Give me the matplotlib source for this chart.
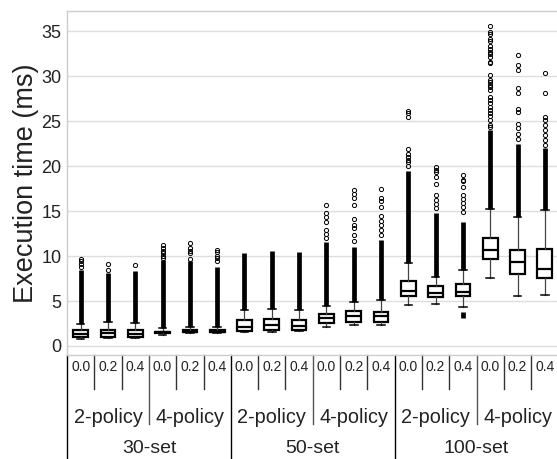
import matplotlib
matplotlib.use("Agg")
import matplotlib.pyplot as plt
from matplotlib.lines import Line2D

plt.rcParams['font.family'] = ['Liberation Sans', 'DejaVu Sans']

# hierarchy of the x axis
sets = ["30-set", "50-set", "100-set"]
policies = ["2-policy", "4-policy"]
ratios = ["0.0", "0.2", "0.4"]

# box statistics per category (ms)
whislo = [0.8, 0.85, 0.85, 1.2, 1.4, 1.4, 1.6, 1.6, 1.65, 2.15, 2.35, 2.35, 4.55, 4.65, 4.3, 7.6, 5.55, 5.65]
q1 = [0.95, 1.0, 1.0, 1.4, 1.5, 1.5, 1.7, 1.8, 1.8, 2.5, 2.7, 2.7, 5.6, 5.5, 5.55, 9.65, 8.0, 7.6]
med = [1.3, 1.4, 1.35, 1.5, 1.6, 1.6, 2.15, 2.3, 2.25, 3.1, 3.35, 3.3, 6.15, 5.9, 6.0, 10.65, 9.35, 8.6]
q3 = [1.75, 1.8, 1.8, 1.6, 1.75, 1.75, 2.9, 3.0, 2.9, 3.6, 3.9, 3.8, 7.2, 6.65, 6.85, 11.95, 10.65, 10.8]
whishi = [2.4, 2.7, 2.6, 1.95, 2.1, 2.1, 4.0, 4.1, 4.0, 4.4, 4.9, 5.1, 9.25, 7.7, 8.5, 15.2, 14.3, 15.1]

# the outliers pile up into solid columns: top of the solid part
dense_hi = [8.5, 8.1, 8.3, 9.6, 9.5, 8.8, 10.3, 10.6, 10.5, 11.6, 11.0, 11.8, 19.5, 14.8, 13.8, 24.0, 22.5, 22.0]
# solid column below the box (100-set 2-policy 0.4)
low_idx = [14]
low_lo = [3.1]
low_hi = [3.8]

# single outliers above the solid part
sparse = [
    [8.8, 9.1, 9.4, 9.7],
    [8.4, 9.1],
    [9.0],
    [9.8, 10.0, 10.3, 10.6, 10.9, 11.2],
    [9.7, 10.3, 10.6, 10.9, 11.5],
    [9.5, 9.8, 10.0, 10.4, 10.7],
    [],
    [],
    [],
    [12.0, 12.4, 12.9, 13.8, 14.3, 14.8, 15.7],
    [11.7, 12.3, 13.1, 13.5, 14.1, 15.7, 16.4, 16.9, 17.3],
    [12.3, 12.9, 13.4, 13.9, 14.4, 15.5, 16.1, 16.5, 17.5],
    [20.0, 20.5, 20.7, 21.0, 21.3, 21.9, 25.5, 25.9, 26.1],
    [15.3, 15.8, 16.2, 16.8, 18.0, 18.8, 19.3, 19.6, 19.9],
    [14.9, 15.5, 15.9, 16.3, 16.8, 17.7, 18.3, 18.4, 19.0],
    [24.3, 24.6, 25.1, 25.6, 25.9, 26.2, 26.6, 27.0, 27.3, 27.7, 28.5, 28.8, 29.0, 29.3,
     29.6, 30.1, 31.4, 31.6, 32.1, 32.4, 32.7, 33.0, 33.3, 33.9, 34.1, 34.7, 34.9, 35.6],
    [23.0, 23.6, 24.2, 24.7, 26.0, 26.3, 28.1, 28.7, 30.7, 31.2, 32.3],
    [22.3, 22.9, 23.4, 24.0, 24.6, 25.1, 25.5, 28.1, 30.3],
]

yticks = [0, 5, 10, 15, 20, 25, 30, 35]

n = len(med)
pos = list(range(1, n + 1))

fig = plt.figure(figsize=(5.57, 4.59), dpi=100)
ax = fig.add_axes([0.1203, 0.2266, 0.8824, 0.750])

# solid outlier columns first, boxes on top
ax.vlines(pos, whishi, dense_hi, color="black", linewidth=3.4, zorder=2)
ax.vlines([pos[i] for i in low_idx], low_lo, low_hi, color="black", linewidth=3.4, zorder=2)

stats = []
for i in range(n):
    stats.append(dict(whislo=whislo[i], q1=q1[i], med=med[i], q3=q3[i],
                      whishi=whishi[i], fliers=sparse[i]))

ax.bxp(stats, positions=pos, widths=0.54, patch_artist=True, showfliers=True,
       boxprops=dict(facecolor="white", edgecolor="black", linewidth=1.6),
       medianprops=dict(color="black", linewidth=1.6),
       whiskerprops=dict(color="#444444", linewidth=0.9),
       capprops=dict(color="black", linewidth=1.1),
       capwidths=0.28,
       flierprops=dict(marker="o", markersize=3.0, markerfacecolor="none",
                       markeredgecolor="black", markeredgewidth=0.7),
       zorder=3)

ax.set_xlim(0.5, n + 0.5)
ax.set_ylim(-1.0, 37.26)
ax.set_yticks(yticks)
ax.set_yticklabels([str(t) for t in yticks], fontsize=13, color="#222222")
ax.set_xticks([])
ax.tick_params(axis="y", length=0, pad=4)
ax.set_ylabel("Execution time (ms)", fontsize=19.5, color="#222222", labelpad=2)
ax.yaxis.grid(True, color="#dddddd", linewidth=1.0)
ax.set_axisbelow(True)
for s in ax.spines.values():
    s.set_color("#cccccc")
    s.set_linewidth(1.0)

# hierarchical labels under the axes
tr = ax.get_xaxis_transform()
y_r, y_p, y_s = -0.034, -0.183, -0.272
end_r, end_p, end_s = -0.099, -0.200, -0.31

k = 0
for si, sname in enumerate(sets):
    for pi, pname in enumerate(policies):
        for ri, rname in enumerate(ratios):
            ax.text(pos[k], y_r, rname, transform=tr, ha="center", va="center",
                    fontsize=10, color="#222222")
            k += 1
        ax.text(pos[k - 3] + 1, y_p, pname, transform=tr, ha="center", va="center",
                fontsize=14.3, color="#222222")
    ax.text(pos[k - 6] + 2.5, y_s, sname, transform=tr, ha="center", va="center",
            fontsize=14, color="#222222")

# separators between categories
for b in range(n + 1):
    x = b + 0.5
    if b % 6 == 0:
        y_end, col = end_s, "black"
    elif b % 3 == 0:
        y_end, col = end_p, "#555555"
    else:
        y_end, col = end_r, "#333333"
    ax.add_line(Line2D([x, x], [0, y_end], transform=tr, color=col,
                       linewidth=1.0, clip_on=False))

fig.savefig("out.png", dpi=100)
